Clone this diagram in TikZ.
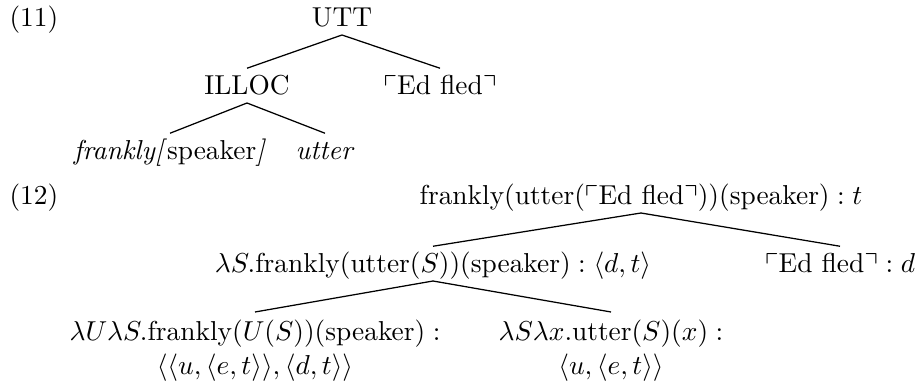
\documentclass[tikz,border=0pt]{standalone}
\usepackage{amsmath}
\usepackage{amssymb}
\usepackage{tikz}

\begin{document}
\begin{tikzpicture}[
    x=0.4pt, y=-0.4pt,
    every node/.style={font=\fontsize{10.95}{13.6}\selectfont, inner sep=3pt},
    lab/.style={anchor=base, text height=0.75em, text depth=0pt},
    labtwo/.style={anchor=north, align=center},
    exnum/.style={anchor=base west, inner sep=0pt},
    branch/.style={line width=0.5pt}
]
\useasboundingbox (0,0) rectangle (921,385);

% Example (11)
\node[exnum] (ex11) at (9,27) {(11)};
\node[lab] (utt) at (342,27) {UTT};
\node[lab] (illoc) at (247,95) {ILLOC};
\node[lab] (edfled) at (440,95) {$\ulcorner$Ed fled$\urcorner$};
\node[lab] (frankly) at (170,160) {\textit{frankly[}speaker\textit{]}};
\node[lab] (utter) at (325,160) {\textit{utter}};

% Example (12)
\node[exnum] (ex12) at (9,205) {(12)};
\node[lab] (root) at (641,205) {$\text{frankly}(\text{utter}(\ulcorner\text{Ed fled}\urcorner))(\text{speaker}) : t$};
\node[lab] (lamS) at (433,273) {$\lambda S.\text{frankly}(\text{utter}(S))(\text{speaker}) : \langle d,t\rangle$};
\node[lab] (edd) at (840,273) {$\ulcorner\text{Ed fled}\urcorner : d$};
\node[labtwo] (lamU) at (255,312) {$\lambda U\lambda S.\text{frankly}(U(S))(\text{speaker}) :$\\ $\langle\langle u,\langle e,t\rangle\rangle,\langle d,t\rangle\rangle$};
\node[labtwo] (lamX) at (611,312) {$\lambda S\lambda x.\text{utter}(S)(x) :$\\ $\langle u,\langle e,t\rangle\rangle$};

% Branches
\draw[branch] (utt.south) -- (illoc.north);
\draw[branch] (utt.south) -- (edfled.north);
\draw[branch] (illoc.south) -- (frankly.north);
\draw[branch] (illoc.south) -- (utter.north);
\draw[branch] (root.south) -- (lamS.north);
\draw[branch] (root.south) -- (edd.north);
\draw[branch] (lamS.south) -- (lamU.north);
\draw[branch] (lamS.south) -- (lamX.north);

\end{tikzpicture}
\end{document}
